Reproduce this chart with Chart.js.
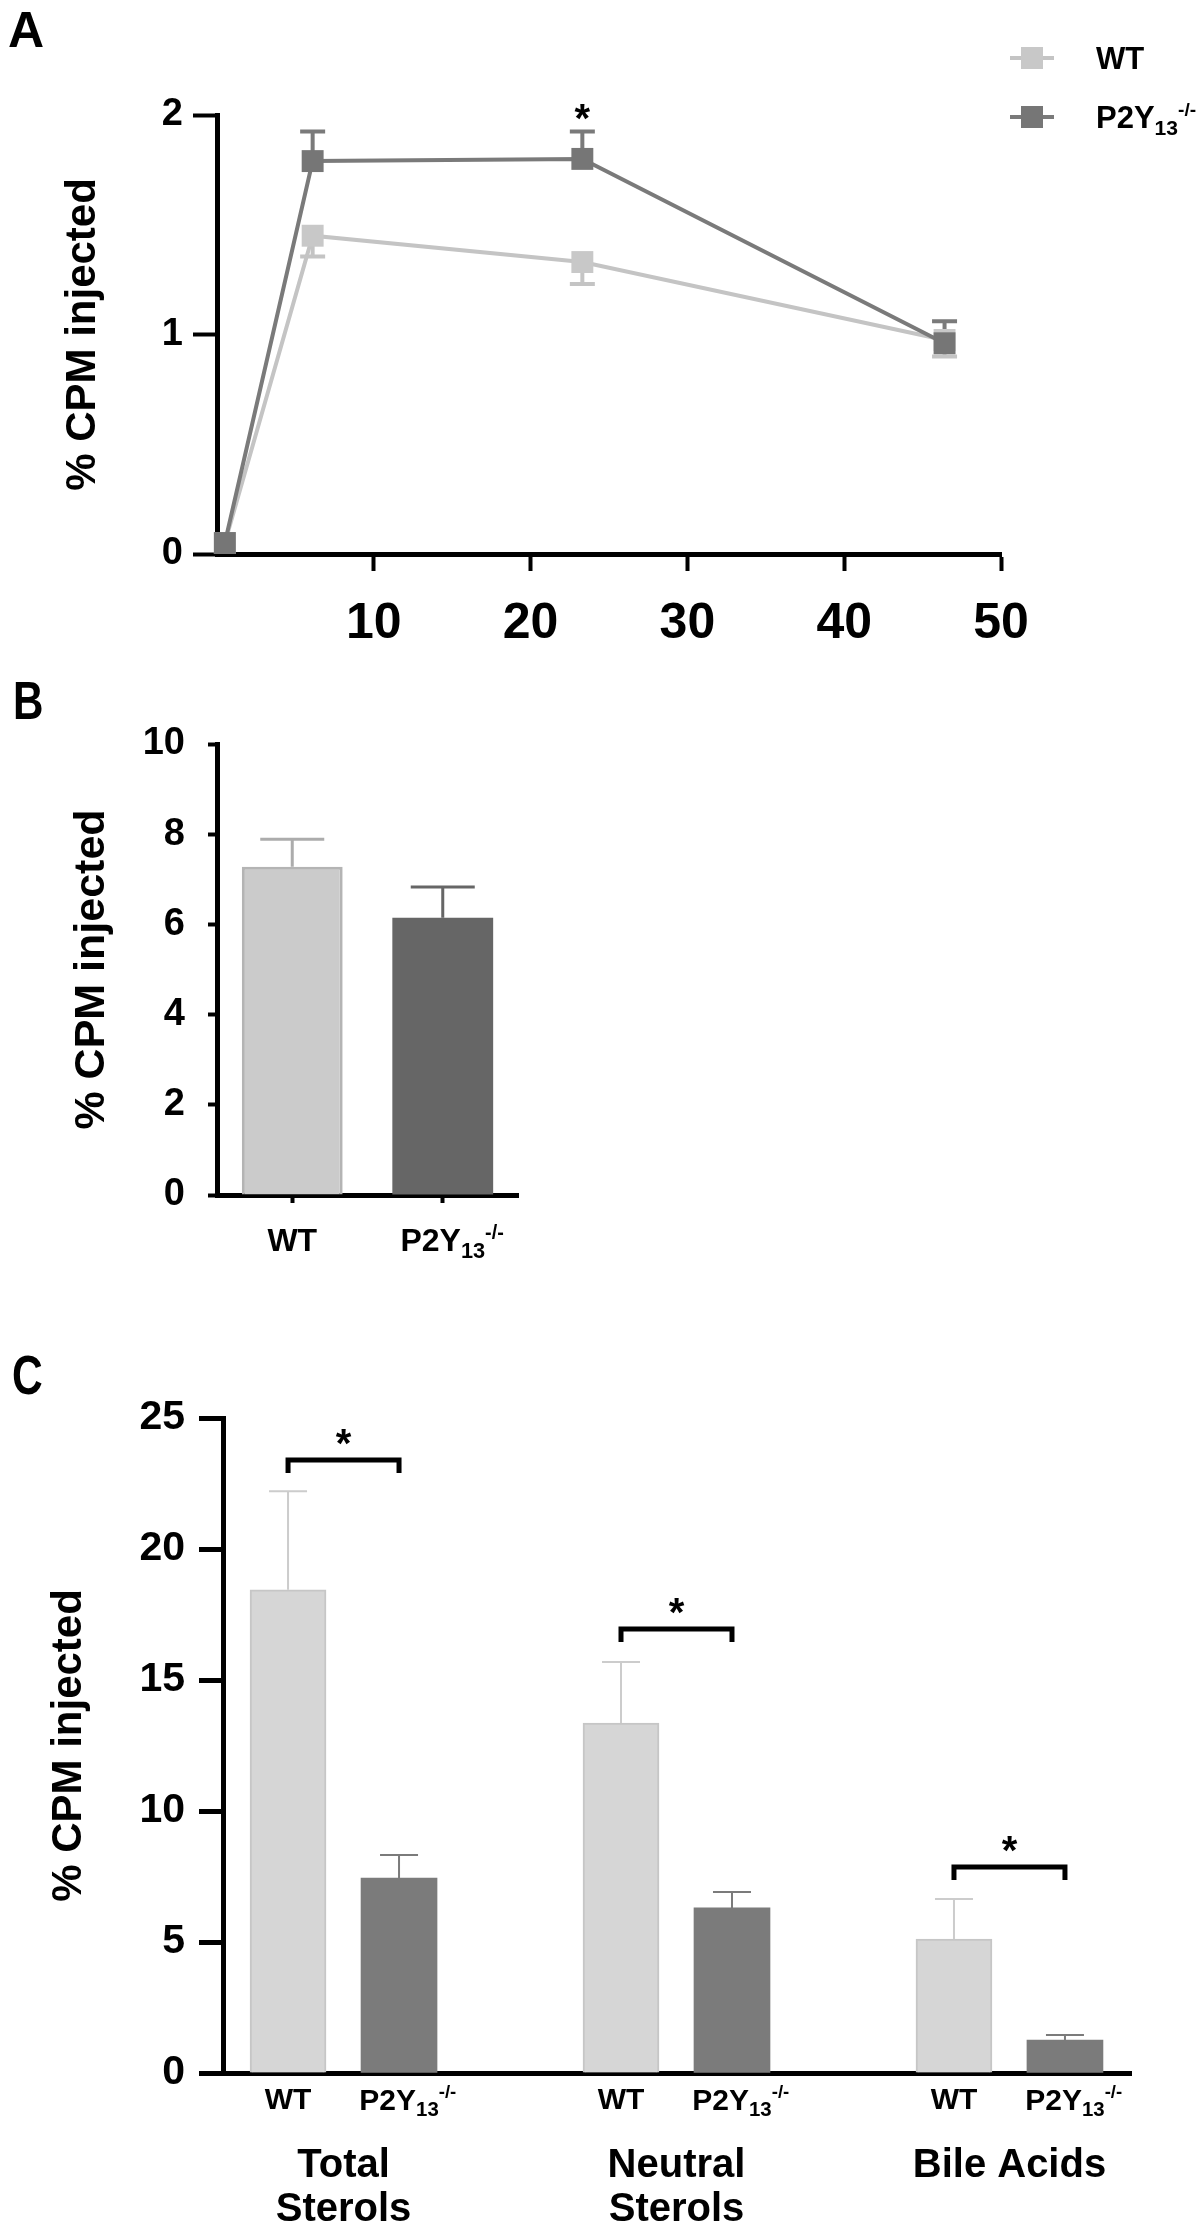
<!DOCTYPE html>
<html>
<head>
<meta charset="utf-8">
<script src="https://cdn.jsdelivr.net/npm/chart.js@4.4.0/dist/chart.umd.min.js"></script>
<style>
  body { margin: 0; background: #fff; width: 1200px; height: 2229px; position: relative; overflow: hidden; }
  canvas { position: absolute; left: 0; }
  #chartA { top: 0; }
  #chartB { top: 660px; }
  #chartC { top: 1290px; }
</style>
</head>
<body>
<canvas id="chartA" width="1200" height="690"></canvas>
<canvas id="chartB" width="600" height="620"></canvas>
<canvas id="chartC" width="1200" height="939"></canvas>
<script>
var FONT = "'Liberation Sans', Arial, Helvetica, sans-serif";

// ---- panel A: time course ----
var timeA = [0.5, 6.1, 23.3, 46.4];
var wtA = [0.05, 1.45, 1.33, 0.975];
var wtAErr = [0, 0.095, 0.10, 0.075];
var koA = [0.05, 1.79, 1.80, 0.96];
var koAErr = [0, 0.135, 0.125, 0.10];
var xTicksA = [10, 20, 30, 40, 50];
var yTicksA = [0, 1, 2];

// ---- panel B ----
var groupsB = ['WT', 'P2Y13'];
var valuesB = [7.28, 6.15];
var errB = [0.61, 0.68];
var yTicksB = [0, 2, 4, 6, 8, 10];

// ---- panel C ----
var groupsC = [['Total', 'Sterols'], ['Neutral', 'Sterols'], ['Bile Acids']];
var wtC = [18.44, 13.36, 5.11];
var wtCErr = [3.76, 2.33, 1.53];
var koC = [7.44, 6.3, 1.26];
var koCErr = [0.88, 0.61, 0.19];
var sigC = [23.4, 16.95, 7.86];
var yTicksC = [0, 5, 10, 15, 20, 25];

function bold(size) { return 'bold ' + size + 'px ' + FONT; }

// text whose vertical centre (cap middle) is at cy
function label(ctx, txt, x, cy, size, align) {
  ctx.font = bold(size);
  ctx.fillStyle = '#000';
  ctx.textAlign = align || 'center';
  ctx.textBaseline = 'alphabetic';
  ctx.fillText(txt, x, cy + size * 0.358);
}

// panel letters are a bit narrower than the body font
function letter(ctx, txt, x, cy, size, sx) {
  ctx.save();
  ctx.translate(x, cy + size * 0.358);
  ctx.scale(sx, 1);
  ctx.font = bold(size);
  ctx.fillStyle = '#000';
  ctx.textAlign = 'left';
  ctx.textBaseline = 'alphabetic';
  ctx.fillText(txt, 0, 0);
  ctx.restore();
}

// P2Y13-/- with subscript and superscript
function genotype(ctx, x, cy, size, align) {
  var base = cy + size * 0.358;
  ctx.fillStyle = '#000';
  ctx.textBaseline = 'alphabetic';
  ctx.textAlign = 'left';
  ctx.font = bold(size); var w1 = ctx.measureText('P2Y').width;
  ctx.font = bold(size * 0.68); var w2 = ctx.measureText('13').width;
  var x0 = align === 'left' ? x : x - (w1 + w2) / 2;
  ctx.font = bold(size); ctx.fillText('P2Y', x0, base);
  ctx.font = bold(size * 0.68); ctx.fillText('13', x0 + w1, base + size * 0.22);
  ctx.font = bold(size * 0.62); ctx.fillText('-/-', x0 + w1 + w2, base - size * 0.4);
}

function star(ctx, x, cy, size) {
  ctx.font = bold(size);
  ctx.fillStyle = '#000';
  ctx.textAlign = 'center';
  ctx.textBaseline = 'alphabetic';
  ctx.fillText('*', x, cy + size * 0.57);
}

// one-sided error bars, read from dataset.errors
var errorBars = {
  id: 'errorBars',
  beforeDatasetsDraw: function(chart) {
    var ctx = chart.ctx, yScale = chart.scales.y;
    chart.data.datasets.forEach(function(ds, di) {
      if (!ds.errors) return;
      var meta = chart.getDatasetMeta(di);
      meta.data.forEach(function(el, i) {
        var e = ds.errors[i];
        if (!e) return;
        var v = meta.controller.getParsed(i).y;
        var sign = ds.errorDir === 'down' ? -1 : 1;
        var y0 = yScale.getPixelForValue(v);
        var y1 = yScale.getPixelForValue(v + sign * e);
        var col = Array.isArray(ds.errorColor) ? ds.errorColor[i] : ds.errorColor;
        ctx.save();
        ctx.strokeStyle = col;
        ctx.lineWidth = ds.errorWidth;
        ctx.beginPath();
        ctx.moveTo(el.x, y0);
        ctx.lineTo(el.x, y1);
        ctx.moveTo(el.x - ds.errorCap / 2, y1);
        ctx.lineTo(el.x + ds.errorCap / 2, y1);
        ctx.stroke();
        ctx.restore();
      });
    });
  }
};

function axisStyle(tickLen, tickW, fontSize, pad) {
  return {
    border: { display: true, color: '#000', width: 5 },
    grid: { display: true, drawOnChartArea: false, drawTicks: true, tickLength: tickLen, tickWidth: tickW, tickColor: '#000' },
    ticks: { color: '#000', font: { family: FONT, size: fontSize, weight: 'bold' }, padding: pad, autoSkip: false, maxRotation: 0 }
  };
}

function yTitle(size) {
  return { display: true, text: '% CPM injected', color: '#000', font: { family: FONT, size: size, weight: 'bold' }, padding: 0 };
}

// ================= A =================
var extrasA = {
  id: 'extrasA',
  afterDraw: function(chart) {
    var ctx = chart.ctx, x = chart.scales.x, y = chart.scales.y;
    ctx.save();
    letter(ctx, 'A', 8, 29, 50, 1);
    // asterisk above the 23 h point
    star(ctx, x.getPixelForValue(timeA[2]), y.getPixelForValue(koA[2] + koAErr[2]) - 22, 40);
    // legend
    var items = [{ c: '#c4c4c4', m: '#c8c8c8', cy: 58, wt: true }, { c: '#7a7a7a', m: '#767676', cy: 117, wt: false }];
    items.forEach(function(it) {
      ctx.strokeStyle = it.c; ctx.lineWidth = 4;
      ctx.beginPath(); ctx.moveTo(1010, it.cy); ctx.lineTo(1054, it.cy); ctx.stroke();
      ctx.fillStyle = it.m; ctx.fillRect(1021, it.cy - 11, 22, 22);
      if (it.wt) label(ctx, 'WT', 1096, it.cy, 31, 'left');
      else genotype(ctx, 1096, it.cy, 31, 'left');
    });
    ctx.restore();
  }
};

var scaleAX = axisStyle(17, 4, 50, 23);
scaleAX.type = 'linear'; scaleAX.min = 0; scaleAX.max = 50;
scaleAX.afterBuildTicks = function(s) { s.ticks = xTicksA.map(function(v) { return { value: v }; }); };
scaleAX.afterFit = function(s) { s.height = 100; };
var scaleAY = axisStyle(24, 4, 38, 10);
scaleAY.min = 0; scaleAY.max = 2;
scaleAY.afterBuildTicks = function(s) { s.ticks = yTicksA.map(function(v) { return { value: v }; }); };
scaleAY.afterFit = function(s) { s.width = 159; };
scaleAY.title = yTitle(42);

new Chart(document.getElementById('chartA'), {
  type: 'line',
  data: {
    datasets: [{
      label: 'WT',
      data: timeA.map(function(t, i) { return { x: t, y: wtA[i] }; }),
      borderColor: '#c4c4c4', borderWidth: 4,
      pointStyle: 'rect', pointRadius: 15.5, pointBackgroundColor: '#c8c8c8', pointBorderWidth: 0,
      errors: wtAErr, errorDir: 'down', errorColor: '#c4c4c4', errorWidth: 4, errorCap: 25,
      order: 2, clip: false
    }, {
      label: 'P2Y13-/-',
      data: timeA.map(function(t, i) { return { x: t, y: koA[i] }; }),
      borderColor: '#7a7a7a', borderWidth: 4,
      pointStyle: 'rect', pointRadius: 15.5, pointBackgroundColor: '#767676', pointBorderWidth: 0,
      errors: koAErr, errorDir: 'up', errorColor: '#7a7a7a', errorWidth: 4, errorCap: 25,
      order: 1, clip: false
    }]
  },
  options: {
    responsive: false,
    animation: false,
    layout: { padding: { left: 58, right: 199, top: 115, bottom: 36 } },
    plugins: { legend: { display: false }, tooltip: { enabled: false } },
    scales: { x: scaleAX, y: scaleAY }
  },
  plugins: [errorBars, extrasA]
});

// ================= B =================
var extrasB = {
  id: 'extrasB',
  afterDraw: function(chart) {
    var ctx = chart.ctx, x = chart.scales.x;
    ctx.save();
    letter(ctx, 'B', 13, 40, 54, 0.78);
    label(ctx, groupsB[0], x.getPixelForValue(0), 580, 32);
    genotype(ctx, x.getPixelForValue(1), 580, 32);
    ctx.restore();
  }
};

var scaleBX = axisStyle(8, 4, 30, 0);
scaleBX.grid.offset = false;
scaleBX.ticks.display = false;
scaleBX.afterFit = function(s) { s.height = 60; };
var scaleBY = axisStyle(9, 4, 38, 23);
scaleBY.min = 0; scaleBY.max = 10;
scaleBY.afterBuildTicks = function(s) { s.ticks = yTicksB.map(function(v) { return { value: v }; }); };
scaleBY.afterFit = function(s) { s.width = 151; };
scaleBY.title = yTitle(43);

new Chart(document.getElementById('chartB'), {
  type: 'bar',
  data: {
    labels: groupsB,
    datasets: [{
      data: valuesB,
      backgroundColor: ['#cbcbcb', '#666666'],
      borderColor: ['#b4b4b4', '#666666'],
      borderWidth: [3, 0],
      barPercentage: 0.67, categoryPercentage: 1,
      errors: errB, errorColor: ['#acacac', '#666666'], errorWidth: 3, errorCap: 64
    }]
  },
  options: {
    responsive: false,
    animation: false,
    layout: { padding: { left: 66, right: 82, top: 84, bottom: 25 } },
    plugins: { legend: { display: false }, tooltip: { enabled: false } },
    scales: { x: scaleBX, y: scaleBY }
  },
  plugins: [errorBars, extrasB]
});

// ================= C =================
var extrasC = {
  id: 'extrasC',
  afterDraw: function(chart) {
    var ctx = chart.ctx, x = chart.scales.x, y = chart.scales.y;
    ctx.save();
    letter(ctx, 'C', 12, 84, 56, 0.76);
    groupsC.forEach(function(g, i) {
      var xw = x.getPixelForValue(i * 3), xk = x.getPixelForValue(i * 3 + 1);
      label(ctx, 'WT', xw, 808, 30);
      genotype(ctx, xk, 809, 30);
      g.forEach(function(line, j) { label(ctx, line, (xw + xk) / 2, 873 + j * 44, 40); });
      // significance bracket
      var yb = y.getPixelForValue(sigC[i]);
      ctx.strokeStyle = '#000'; ctx.lineWidth = 5;
      ctx.beginPath();
      ctx.moveTo(xw, yb + 13); ctx.lineTo(xw, yb); ctx.lineTo(xk, yb); ctx.lineTo(xk, yb + 13);
      ctx.stroke();
      star(ctx, (xw + xk) / 2, yb - 26, 40);
    });
    ctx.restore();
  }
};

var scaleCX = { type: 'linear', min: -0.586, max: 7.595, bounds: 'data', offset: false,
  border: { display: true, color: '#000', width: 5 },
  grid: { display: false }, ticks: { display: false },
  afterFit: function(s) { s.height = 140; } };
var scaleCY = axisStyle(24, 5, 41, 14);
scaleCY.min = 0; scaleCY.max = 25;
scaleCY.afterBuildTicks = function(s) { s.ticks = yTicksC.map(function(v) { return { value: v }; }); };
scaleCY.afterFit = function(s) { s.width = 179; };
scaleCY.title = yTitle(42);

new Chart(document.getElementById('chartC'), {
  type: 'bar',
  data: {
    datasets: [{
      label: 'WT',
      data: wtC.map(function(v, i) { return { x: i * 3, y: v }; }),
      backgroundColor: '#d6d6d6', borderColor: '#c6c6c6', borderWidth: 2,
      grouped: false, barThickness: 76,
      errors: wtCErr, errorColor: '#cccccc', errorWidth: 2, errorCap: 38
    }, {
      label: 'P2Y13-/-',
      data: koC.map(function(v, i) { return { x: i * 3 + 1, y: v }; }),
      backgroundColor: '#7b7b7b', borderWidth: 0,
      grouped: false, barThickness: 76,
      errors: koCErr, errorColor: '#7b7b7b', errorWidth: 2, errorCap: 38
    }]
  },
  options: {
    responsive: false,
    animation: false,
    layout: { padding: { left: 44, right: 69, top: 128, bottom: 16 } },
    plugins: { legend: { display: false }, tooltip: { enabled: false } },
    scales: { x: scaleCX, y: scaleCY }
  },
  plugins: [errorBars, extrasC]
});
</script>
</body>
</html>
